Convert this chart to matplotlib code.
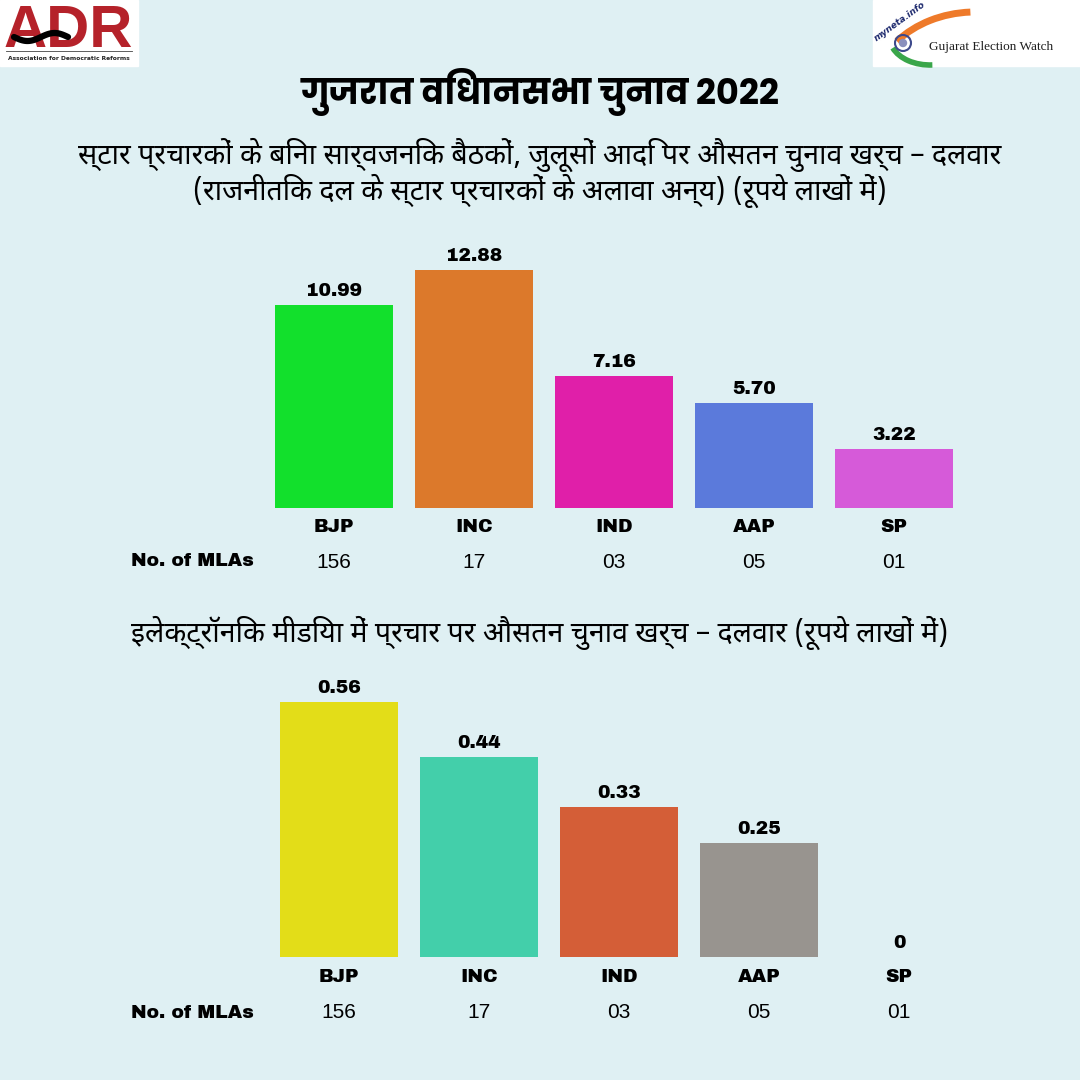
import matplotlib
matplotlib.use("Agg")
import numpy as np
import matplotlib.pyplot as plt
from matplotlib import font_manager
from matplotlib.patches import Rectangle, Circle, Arc

# ---- data ----
parties = ["BJP", "INC", "IND", "AAP", "SP"]
mla_counts = ["156", "17", "03", "05", "01"]
public_spend = [10.99, 12.88, 7.16, 5.70, 3.22]
public_labels = ["10.99", "12.88", "7.16", "5.70", "3.22"]
media_spend = [0.56, 0.44, 0.33, 0.25, 0.0]
media_labels = ["0.56", "0.44", "0.33", "0.25", "0"]
public_colors = ["#12e02c", "#dc792b", "#e01fa9", "#5b7adb", "#d65ad9"]
media_colors = ["#e3dd18", "#43cfaa", "#d45e37", "#98948f", "#98948f"]

title = "गुजरात विधानसभा चुनाव 2022"
subtitle_top = ("स्टार प्रचारकों के बिना सार्वजनिक बैठकों, जुलूसों आदि पर औसतन चुनाव खर्च – दलवार\n"
                "(राजनीतिक दल के स्टार प्रचारकों के अलावा अन्य) (रूपये लाखों में)")
subtitle_bottom = "इलेक्ट्रॉनिक मीडिया में प्रचार पर औसतन चुनाव खर्च – दलवार (रूपये लाखों में)"

BG = "#dff0f3"

available = set(font_manager.fontManager.get_font_names())
def fams(*names):
    return [n for n in names if n in available] + ["DejaVu Sans"]

TITLE_FONT = fams("Poppins", "Noto Sans Devanagari", "Hind", "Mukta")
DEVA_FONT = fams("Noto Sans Devanagari", "Mukta", "Hind", "Poppins")
BOLD_FONT = fams("Archivo Black", "Archivo", "Inter")
REG_FONT = fams("Liberation Sans", "Arimo", "Roboto")

fig = plt.figure(figsize=(10.8, 10.8), dpi=100, facecolor=BG)

def fx(x):
    return x / 1080

def fy(y):
    return 1 - y / 1080

# ---- titles ----
fig.text(0.5, fy(92), title, ha="center", va="center", fontsize=25.3,
         fontweight="bold", family=TITLE_FONT)
fig.text(0.5, fy(173), subtitle_top, ha="center", va="center", fontsize=20.5,
         family=DEVA_FONT, linespacing=1.06)
fig.text(0.5, fy(633), subtitle_bottom, ha="center", va="center", fontsize=20.5,
         family=DEVA_FONT)


def bar_panel(left, base, ymax, px_per_unit, values, labels, colors, lab_off, mla_off):
    height = ymax * px_per_unit
    ax = fig.add_axes([fx(left), fy(base), 700 / 1080, height / 1080])
    ax.set_facecolor("none")
    x = np.arange(len(values))
    ax.bar(x, values, width=0.845, color=colors)
    ax.set_xlim(-0.5, len(values) - 0.5)
    ax.set_ylim(0, ymax)
    ax.axis("off")
    for i, (v, lab) in enumerate(zip(values, labels)):
        ax.annotate(lab, xy=(i, v), xytext=(0, 9), textcoords="offset pixels",
                    ha="center", va="baseline", fontsize=13.5,
                    family=BOLD_FONT, annotation_clip=False)
        ax.annotate(parties[i], xy=(i, 0), xytext=(0, -lab_off), textcoords="offset pixels",
                    ha="center", va="center", fontsize=13.5,
                    family=BOLD_FONT, annotation_clip=False)
        ax.annotate(mla_counts[i], xy=(i, 0), xytext=(0, -mla_off), textcoords="offset pixels",
                    ha="center", va="center", fontsize=15,
                    family=REG_FONT, annotation_clip=False)
    fig.text(fx(192), fy(base + mla_off), "No. of MLAs", ha="center", va="center",
             fontsize=13.5, family=BOLD_FONT)
    return ax


bar_panel(264, 508, 14, 18.47, public_spend, public_labels, public_colors, 19, 54)
bar_panel(269, 957, 0.6, 455, media_spend, media_labels, media_colors, 21, 56)

# ---- logos (simple drawn versions) ----
logo = fig.add_axes([0, 0, 1, 1])
logo.set_xlim(0, 1080)
logo.set_ylim(0, 1080)
logo.axis("off")
logo.set_facecolor("none")

def Y(y):
    return 1080 - y

logo.add_patch(Rectangle((0, Y(66)), 138, 66, color="white"))
logo.text(68, Y(47), "ADR", ha="center", va="baseline", fontsize=43, fontweight="bold",
          color="#b5222a", family=fams("Liberation Sans", "Arimo"))
sx = np.linspace(14, 68, 40)
logo.plot(sx, Y(37 + 4 * np.sin((sx - 14) / 54 * 2 * np.pi)), color="black", lw=4.5,
          solid_capstyle="round", zorder=5)
logo.plot([6, 132], [Y(51), Y(51)], color="#444444", lw=0.6)
logo.text(69, Y(58.5), "Association for Democratic Reforms", ha="center", va="center",
          fontsize=4.3, fontweight="bold", color="#222222")

logo.add_patch(Rectangle((873, Y(66)), 207, 66, color="white"))
logo.add_patch(Arc((975, Y(100)), 210, 176, theta1=93, theta2=143, color="#ee7a2a", lw=5))
logo.add_patch(Arc((930, Y(38)), 80, 54, theta1=195, theta2=275, color="#3aa64a", lw=4))
logo.add_patch(Circle((903, Y(43)), 8, fill=False, ec="#3d4a8c", lw=1.5))
logo.add_patch(Circle((903, Y(43)), 3.5, color="#8a90bd"))
logo.text(900, Y(21), "myneta.info", rotation=36, ha="center", va="center",
          fontsize=6.5, color="#1e2a6e", style="italic", fontweight="bold")
logo.text(991, Y(47), "Gujarat Election Watch", ha="center", va="center", fontsize=9.5,
          color="#1f1f1f", family=fams("Liberation Serif", "DejaVu Serif"))

fig.savefig("out.png", dpi=100, facecolor=BG)
